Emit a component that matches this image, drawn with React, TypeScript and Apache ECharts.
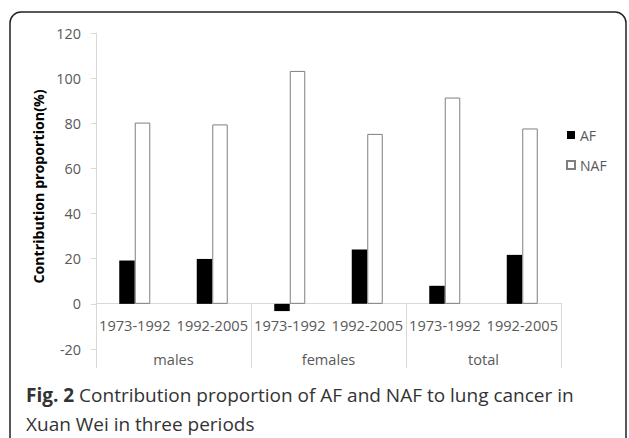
import React, { useEffect, useRef } from "react";
import * as echarts from "echarts";

const categories = ["1973-1992", "1992-2005", "1973-1992", "1992-2005", "1973-1992", "1992-2005"];
const groups = ["males", "females", "total"];
const afValues = [19.2, 19.9, -3.2, 24.1, 8.0, 21.7];
const nafValues = [80.3, 79.5, 103.2, 75.3, 91.4, 77.7];
const yTicks = { min: -20, max: 120, interval: 20 };

export default function App() {
  const ref = useRef<HTMLDivElement>(null);
  useEffect(() => {
    document.body.style.margin = "0";
    const chart = echarts.init(ref.current!, null, { renderer: "svg" });
    const font = "'Open Sans', 'Noto Sans', sans-serif";
    chart.setOption({
      animation: false,
      textStyle: { fontFamily: font },
      grid: { left: 96, top: 33, right: 68, bottom: 89, containLabel: false },
      legend: {
        orient: "vertical",
        left: 566,
        top: 128,
        padding: 0,
        itemWidth: 8,
        itemHeight: 8,
        itemGap: 16,
        icon: "rect",
        textStyle: { fontSize: 14, color: "#595959", fontFamily: font },
        data: ["AF", "NAF"],
      },
      xAxis: [
        {
          type: "category",
          data: categories,
          position: "bottom",
          offset: -46,
          axisLine: { onZero: false, lineStyle: { color: "#d9d9d9", width: 1 } },
          axisTick: { show: false },
          axisLabel: { interval: 0, margin: 14, fontSize: 14.6, color: "#595959", fontFamily: font },
          splitLine: { show: false },
        },
        {
          type: "category",
          data: groups,
          position: "bottom",
          offset: 19,
          axisLine: { show: false, onZero: false },
          axisTick: { show: true, inside: true, length: 65, interval: 0, lineStyle: { color: "#d9d9d9", width: 1 } },
          axisLabel: { inside: true, interval: 0, margin: 2, fontSize: 14.6, color: "#595959", fontFamily: font },
          splitLine: { show: false },
        },
      ],
      yAxis: {
        type: "value",
        min: yTicks.min,
        max: yTicks.max,
        interval: yTicks.interval,
        name: "Contribution proportion(%)",
        nameLocation: "middle",
        nameGap: 41,
        nameTextStyle: { fontSize: 14.2, fontWeight: "bold", color: "#000", fontFamily: font, padding: [0, 0, 0, 9] },
        axisLine: { show: true, lineStyle: { color: "#d9d9d9", width: 1 } },
        axisTick: { show: true, length: 5, lineStyle: { color: "#d9d9d9" } },
        axisLabel: { margin: 15, fontSize: 14.4, color: "#595959", fontFamily: font },
        splitLine: { show: false },
      },
      series: [
        {
          name: "AF",
          type: "bar",
          xAxisIndex: 0,
          data: afValues,
          barWidth: 15.5,
          barGap: "0%",
          itemStyle: { color: "#000" },
        },
        {
          name: "NAF",
          type: "bar",
          xAxisIndex: 0,
          data: nafValues,
          barWidth: 15.5,
          barGap: "0%",
          itemStyle: { color: "#fff", borderColor: "#7f7f7f", borderWidth: 1 },
        },
      ],
      graphic: [
        {
          type: "rect",
          shape: { x: 10, y: 12, width: 616, height: 470, r: 11 },
          style: { fill: "none", stroke: "#222", lineWidth: 1.5 },
          silent: true,
        },
        {
          type: "text",
          left: 26,
          top: 380,
          style: {
            text: "{b|Fig. 2} Contribution proportion of AF and NAF to lung cancer in\nXuan Wei in three periods",
            fontSize: 19,
            lineHeight: 29,
            fill: "#333",
            fontFamily: font,
            rich: {
              b: { fontWeight: "bold", fontSize: 19, lineHeight: 29, fill: "#333", fontFamily: font },
            },
          },
        },
      ],
    });
    return () => chart.dispose();
  }, []);
  return <div ref={ref} style={{ width: 629, height: 438 }} />;
}
